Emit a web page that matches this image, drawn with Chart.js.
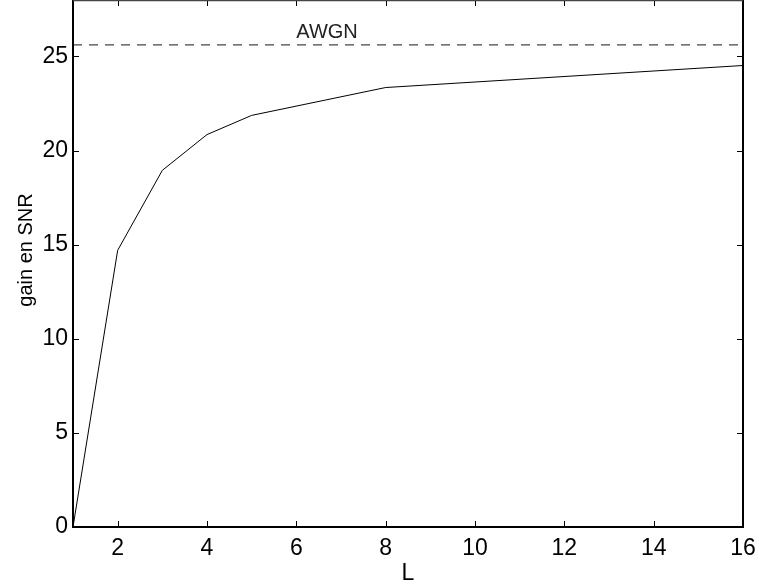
<!DOCTYPE html>
<html>
<head>
<meta charset="utf-8">
<script src="https://cdn.jsdelivr.net/npm/chart.js@4"></script>
<style>
  html, body { margin: 0; padding: 0; background: #fff; }
  #wrap { width: 758px; height: 584px; }
</style>
</head>
<body>
<div id="wrap"><canvas id="chartGain"></canvas></div>
<script>
// L values and gain en SNR
const valL = [1, 2, 3, 4, 5, 8, 16];
const gainSNR = [0, 14.7, 18.95, 20.85, 21.87, 23.35, 24.52];
const awgnLevel = 25.62;
const xTicks = [2, 4, 6, 8, 10, 12, 14, 16];
const yTicks = [0, 5, 10, 15, 20, 25];

const FONT = 'Arial, "Liberation Sans", Helvetica, sans-serif';

// inward tick marks on all four sides + the frame + labels
const cadre = {
  id: 'cadre',
  afterDraw(chart) {
    const c = chart.ctx, a = chart.chartArea;
    const sx = chart.scales.x, sy = chart.scales.y;
    const t = 6;
    c.save();
    c.strokeStyle = '#000';
    c.lineWidth = 1;
    c.beginPath();
    xTicks.forEach(v => {
      const px = Math.round(sx.getPixelForValue(v)) + 0.5;
      c.moveTo(px, a.bottom); c.lineTo(px, a.bottom - t);
      c.moveTo(px, a.top); c.lineTo(px, a.top + t);
    });
    yTicks.forEach(v => {
      const py = Math.round(sy.getPixelForValue(v)) + 0.5;
      c.moveTo(a.left, py); c.lineTo(a.left + t, py);
      c.moveTo(a.right, py); c.lineTo(a.right - t, py);
    });
    c.stroke();
    // frame
    c.lineWidth = 2;
    c.strokeStyle = '#000';
    c.beginPath();
    c.moveTo(a.left, a.top); c.lineTo(a.left, a.bottom);
    c.lineTo(a.right, a.bottom); c.lineTo(a.right, a.top);
    c.stroke();
    c.lineWidth = 1.5;
    c.strokeStyle = '#444';
    c.beginPath();
    c.moveTo(a.left, a.top + 0.5); c.lineTo(a.right, a.top + 0.5);
    c.stroke();
    // AWGN label
    c.fillStyle = '#222';
    c.font = '20px ' + FONT;
    c.textAlign = 'left';
    c.textBaseline = 'middle';
    c.fillText('AWGN', sx.getPixelForValue(6.0), sy.getPixelForValue(26.3));
    // y axis title
    c.translate(26, 250);
    c.rotate(-Math.PI / 2);
    c.textAlign = 'center';
    c.fillStyle = '#000';
    c.font = '20px ' + FONT;
    c.fillText('gain en SNR', 0, 0);
    c.restore();
  }
};

new Chart(document.getElementById('chartGain').getContext('2d'), {
  type: 'line',
  data: {
    datasets: [
      {
        label: 'gain',
        data: valL.map((l, i) => ({ x: l, y: gainSNR[i] })),
        borderColor: '#000',
        borderWidth: 1,
        pointRadius: 0,
        tension: 0
      },
      {
        label: 'AWGN',
        data: [{ x: valL[0], y: awgnLevel }, { x: valL[valL.length - 1], y: awgnLevel }],
        borderColor: '#444',
        borderWidth: 1.3,
        borderDash: [9, 7],
        pointRadius: 0
      }
    ]
  },
  options: {
    responsive: true,
    maintainAspectRatio: false,
    animation: false,
    layout: { padding: { top: 0, right: 15, bottom: 0, left: 0 } },
    plugins: {
      legend: { display: false },
      tooltip: { enabled: false }
    },
    scales: {
      x: {
        type: 'linear',
        min: 1,
        max: 16,
        afterBuildTicks: s => { s.ticks = xTicks.map(v => ({ value: v })); },
        afterFit: s => { s.height = 57; s.paddingLeft = 0; s.paddingRight = 0; },
        grid: { display: false, drawTicks: false },
        border: { display: false },
        ticks: {
          color: '#000',
          padding: 8,
          maxRotation: 0,
          font: { family: FONT, size: 23 }
        },
        title: {
          display: true,
          text: 'L',
          color: '#000',
          padding: { top: 0, bottom: -3 },
          font: { family: FONT, size: 23 }
        }
      },
      y: {
        min: 0,
        max: 28,
        afterBuildTicks: s => { s.ticks = yTicks.map(v => ({ value: v })); },
        afterFit: s => { s.width = 73; s.paddingTop = 0; s.paddingBottom = 0; },
        grid: { display: false, drawTicks: false },
        border: { display: false },
        ticks: {
          color: '#000',
          padding: 5,
          font: { family: FONT, size: 23 }
        }
      }
    }
  },
  plugins: [cadre]
});
</script>
</body>
</html>
